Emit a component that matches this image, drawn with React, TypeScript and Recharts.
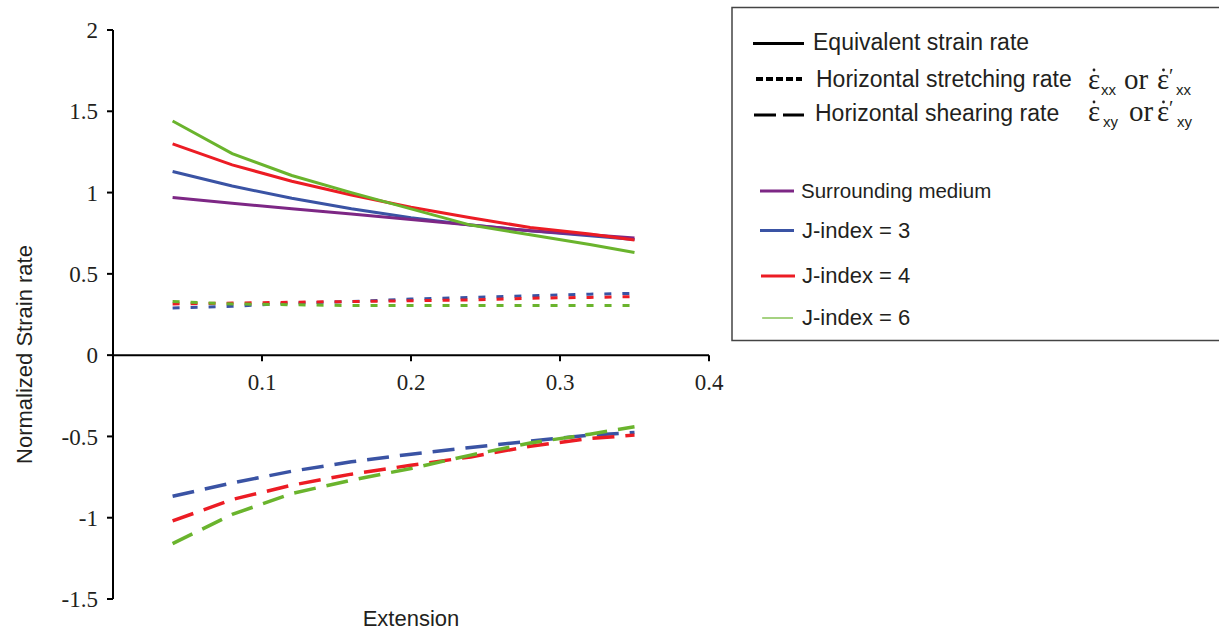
import React from 'react';
import { LineChart, Line, XAxis, YAxis, ReferenceLine, ReferenceDot } from 'recharts';

// Extension values (x)
const extension = [0.04, 0.08, 0.12, 0.16, 0.2, 0.24, 0.28, 0.32, 0.35];

// Equivalent strain rate (solid)
const eqMedium = [0.97, 0.935, 0.9, 0.868, 0.835, 0.8, 0.765, 0.74, 0.72];
const eqJ3 = [1.13, 1.04, 0.965, 0.9, 0.845, 0.8, 0.765, 0.735, 0.712];
const eqJ4 = [1.3, 1.17, 1.07, 0.985, 0.91, 0.845, 0.785, 0.745, 0.708];
const eqJ6 = [1.44, 1.24, 1.105, 1.0, 0.9, 0.8, 0.74, 0.68, 0.632];

// Horizontal stretching rate (dotted)
const stJ3 = [0.29, 0.3, 0.32, 0.33, 0.345, 0.355, 0.365, 0.375, 0.38];
const stJ4 = [0.315, 0.32, 0.325, 0.33, 0.335, 0.34, 0.35, 0.355, 0.36];
const stJ6 = [0.33, 0.315, 0.31, 0.305, 0.305, 0.305, 0.305, 0.305, 0.305];

// Horizontal shearing rate (dashed)
const shJ3 = [-0.868, -0.786, -0.714, -0.656, -0.609, -0.568, -0.529, -0.492, -0.476];
const shJ4 = [-1.02, -0.888, -0.8, -0.732, -0.677, -0.626, -0.56, -0.513, -0.492];
const shJ6 = [-1.159, -0.98, -0.851, -0.769, -0.697, -0.615, -0.54, -0.486, -0.441];

const xTicks = [0.1, 0.2, 0.3, 0.4];
const yTicks = [-1.5, -1, -0.5, 0, 0.5, 1, 1.5, 2];

const data = extension.map((x, i) => ({
  x,
  eqMedium: eqMedium[i],
  eqJ3: eqJ3[i],
  eqJ4: eqJ4[i],
  eqJ6: eqJ6[i],
  stJ3: stJ3[i],
  stJ4: stJ4[i],
  stJ6: stJ6[i],
  shJ3: shJ3[i],
  shJ4: shJ4[i],
  shJ6: shJ6[i],
}));

const PURPLE = '#7d2785';
const BLUE = '#3a53a4';
const RED = '#ec1c24';
const GREEN = '#6ab42d';
const INK = '#231f20';
const SANS = '"Liberation Sans", Arial, sans-serif';
const SERIF = '"Liberation Serif", "Times New Roman", serif';

const DOT = '7 11';
const DASH = '22 11';

function LegendBox() {
  return (
    <svg
      width={1219}
      height={632}
      style={{ position: 'absolute', left: 0, top: 0, pointerEvents: 'none' }}
    >
      <rect x={732} y={7.5} width={500} height={333} fill="#fff" stroke="#444" strokeWidth={1.5} />
      <line x1={753} x2={804} y1={43.5} y2={43.5} stroke="#000" strokeWidth={3} />
      <text x={813} y={50} fontFamily={SANS} fontSize={23} fill={INK}>Equivalent strain rate</text>

      <line x1={756} x2={802} y1={79} y2={79} stroke="#000" strokeWidth={4} strokeDasharray="7 3" />
      <text x={816} y={87} fontFamily={SANS} fontSize={23} fill={INK}>Horizontal stretching rate</text>

      <line x1={754} x2={804} y1={115} y2={115} stroke="#000" strokeWidth={3} strokeDasharray="22 7" />
      <text x={815} y={121} fontFamily={SANS} fontSize={23} fill={INK}>Horizontal shearing rate</text>

      {/* math row 1 */}
      <circle cx={1094} cy={70} r={1.4} fill={INK} />
      <circle cx={1163.5} cy={70} r={1.4} fill={INK} />
      <text fontFamily={SERIF} fontSize={29} fill={INK}>
        <tspan x={1088} y={89}>ε</tspan>
        <tspan x={1101} y={95} fontFamily={SANS} fontSize={15}>xx</tspan>
        <tspan x={1124} y={89}>or</tspan>
        <tspan x={1157} y={89}>ε</tspan>
        <tspan x={1169} y={83} fontSize={20}>′</tspan>
        <tspan x={1176} y={95} fontFamily={SANS} fontSize={15}>xx</tspan>
      </text>

      {/* math row 2 */}
      <circle cx={1094} cy={102} r={1.4} fill={INK} />
      <circle cx={1163.5} cy={102} r={1.4} fill={INK} />
      <text fontFamily={SERIF} fontSize={29} fill={INK}>
        <tspan x={1088} y={121}>ε</tspan>
        <tspan x={1103} y={127} fontFamily={SANS} fontSize={15}>xy</tspan>
        <tspan x={1129} y={121}>or</tspan>
        <tspan x={1157} y={121}>ε</tspan>
        <tspan x={1169} y={115} fontSize={20}>′</tspan>
        <tspan x={1177} y={127} fontFamily={SANS} fontSize={15}>xy</tspan>
      </text>

      <line x1={760} x2={794} y1={191} y2={191} stroke={PURPLE} strokeWidth={3} />
      <text x={801} y={198} fontFamily={SANS} fontSize={20.5} fill={INK}>Surrounding medium</text>
      <line x1={760} x2={794} y1={230.5} y2={230.5} stroke={BLUE} strokeWidth={3} />
      <text x={802} y={238} fontFamily={SANS} fontSize={22} fill={INK}>J-index = 3</text>
      <line x1={761} x2={795} y1={276} y2={276} stroke={RED} strokeWidth={3} />
      <text x={802} y={283} fontFamily={SANS} fontSize={22} fill={INK}>J-index = 4</text>
      <line x1={762} x2={793} y1={318} y2={318} stroke={GREEN} strokeWidth={1.2} />
      <text x={802} y={325} fontFamily={SANS} fontSize={22} fill={INK}>J-index = 6</text>
    </svg>
  );
}

function makeXTick(label: string) {
  return (p: any) => (
    <g>
      <line x1={p.cx} x2={p.cx} y1={p.cy} y2={p.cy + 6} stroke="#000" strokeWidth={2} />
      <text x={p.cx} y={p.cy + 35} textAnchor="middle" fontFamily={SERIF} fontSize={23} fill={INK}>
        {label}
      </text>
    </g>
  );
}

export default function App() {
  return (
    <div
      style={{
        position: 'absolute',
        left: 0,
        top: 0,
        width: 1219,
        height: 632,
        overflow: 'hidden',
        background: '#fff',
      }}
    >
      <LineChart
        width={1219}
        height={632}
        data={data}
        margin={{ top: 30, right: 510, bottom: 0, left: 0 }}
      >
        <XAxis
          dataKey="x"
          type="number"
          domain={[0, 0.4]}
          ticks={xTicks}
          axisLine={false}
          tickLine={false}
          tick={false}
          height={33}
          label={{
            value: 'Extension',
            position: 'insideBottom',
            offset: 6,
            style: { fontFamily: SANS, fontSize: 22, fill: INK },
          }}
        />
        <YAxis
          type="number"
          domain={[-1.5, 2]}
          ticks={yTicks}
          interval={0}
          width={113}
          axisLine={{ stroke: '#000', strokeWidth: 2 }}
          tickLine={{ stroke: '#000', strokeWidth: 2 }}
          tickSize={6}
          tickMargin={9}
          tick={{ fontFamily: SERIF, fontSize: 23, fill: INK }}
          label={{
            value: 'Normalized Strain rate',
            angle: -90,
            position: 'center',
            dx: -32,
            dy: 40,
            style: { fontFamily: SANS, fontSize: 22, fill: INK },
          }}
        />
        <ReferenceLine y={0} stroke="#000" strokeWidth={2} />
        {xTicks.map((t) => (
          <ReferenceDot key={t} x={t} y={0} r={0} shape={makeXTick(String(t))} />
        ))}

        <Line dataKey="stJ3" stroke={BLUE} strokeWidth={3} strokeDasharray={DOT} dot={false} isAnimationActive={false} type="linear" />
        <Line dataKey="stJ4" stroke={RED} strokeWidth={3} strokeDasharray={DOT} dot={false} isAnimationActive={false} type="linear" />
        <Line dataKey="stJ6" stroke={GREEN} strokeWidth={3} strokeDasharray={DOT} dot={false} isAnimationActive={false} type="linear" />

        <Line dataKey="shJ3" stroke={BLUE} strokeWidth={3.5} strokeDasharray={DASH} dot={false} isAnimationActive={false} type="linear" />
        <Line dataKey="shJ4" stroke={RED} strokeWidth={3.5} strokeDasharray={DASH} dot={false} isAnimationActive={false} type="linear" />
        <Line dataKey="shJ6" stroke={GREEN} strokeWidth={3.5} strokeDasharray={DASH} dot={false} isAnimationActive={false} type="linear" />

        <Line dataKey="eqJ3" stroke={BLUE} strokeWidth={3} dot={false} isAnimationActive={false} type="linear" />
        <Line dataKey="eqMedium" stroke={PURPLE} strokeWidth={3} dot={false} isAnimationActive={false} type="linear" />
        <Line dataKey="eqJ4" stroke={RED} strokeWidth={3} dot={false} isAnimationActive={false} type="linear" />
        <Line dataKey="eqJ6" stroke={GREEN} strokeWidth={3} dot={false} isAnimationActive={false} type="linear" />
      </LineChart>
      <LegendBox />
    </div>
  );
}
